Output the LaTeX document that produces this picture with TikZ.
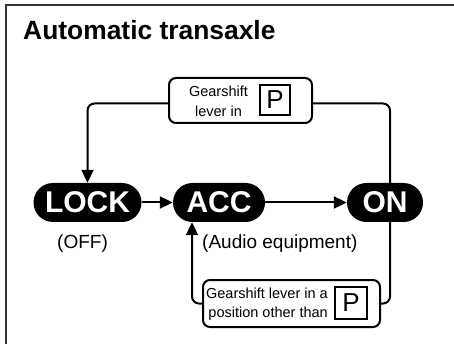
\documentclass[tikz,border=0pt]{standalone}
\usepackage{fontspec}
\setmainfont{Liberation Sans}
\usetikzlibrary{arrows.meta}
\tikzset{
  pill/.style={rectangle, fill=black, rounded corners=19.5pt, minimum height=39pt, inner sep=0pt,
    text=white, font=\fontsize{30}{30}\selectfont\bfseries},
  condbox/.style={rectangle, draw=black, line width=2pt, rounded corners=7pt, inner sep=0pt},
  pbox/.style={rectangle, draw=black, line width=2.2pt, inner sep=0pt, font=\fontsize{26}{26}\selectfont},
  small/.style={inner sep=0pt, font=\fontsize{14.5}{14.5}\selectfont},
  label/.style={inner sep=0pt, font=\fontsize{19}{19}\selectfont},
  conn/.style={line width=2pt, rounded corners=7pt},
  tip/.style={-{Triangle[length=13pt,width=12pt]}}
}
\begin{document}
\begin{tikzpicture}[x=1pt,y=-1pt]
\useasboundingbox (0,0) rectangle (454,344);
% frame
\draw[line width=2pt, draw=black!80] (6,344) -- (6,5) -- (454,5);
% title
\node[anchor=base west, inner sep=0pt, font=\fontsize{26.4}{26.4}\selectfont\bfseries] (title) at (23,39.5) {Automatic transaxle};
% pills
\node[pill, minimum width=108pt] (lock) at (87.5,202.5) {LOCK};
\node[pill, minimum width=92pt] (acc) at (219,202.5) {ACC};
\node[pill, minimum width=76pt] (on) at (385,202.5) {ON};
\node[label, anchor=base] (off) at (82.5,248) {(OFF)};
\node[label, anchor=base west] (audio) at (202,248) {(Audio equipment)};
% top condition box
\node[condbox, minimum width=143pt, minimum height=45pt] (tb) at (240.5,100.5) {};
\node[small, anchor=base] (tb1) at (218.5,97) {Gearshift};
\node[small, anchor=base] (tb2) at (218.5,117) {lever in};
\node[pbox, minimum size=30pt] (tp) at (275,100) {P};
% bottom condition box
\node[condbox, minimum width=177pt, minimum height=47pt] (bb) at (291.5,303.5) {};
\node[small, anchor=base east] (bb1) at (328,298) {Gearshift lever in a};
\node[small, anchor=base east] (bb2) at (328,317) {position other than};
\node[pbox, minimum size=32pt] (bp) at (351,303) {P};
% connectors
\draw[conn, tip] ([yshift=-3pt]tb.west) -| (lock.north);
\draw[conn] ([yshift=-3pt]tb.east) -| ([xshift=5pt]on.north);
\draw[conn, tip] (bb.west) -| ([xshift=-27pt]acc.south);
\draw[conn] (bb.east) -| ([xshift=5pt]on.south);
\draw[line width=2pt, tip] (lock.east) -- (acc.west);
\draw[line width=2pt, tip] (acc.east) -- (on.west);
\end{tikzpicture}
\end{document}
